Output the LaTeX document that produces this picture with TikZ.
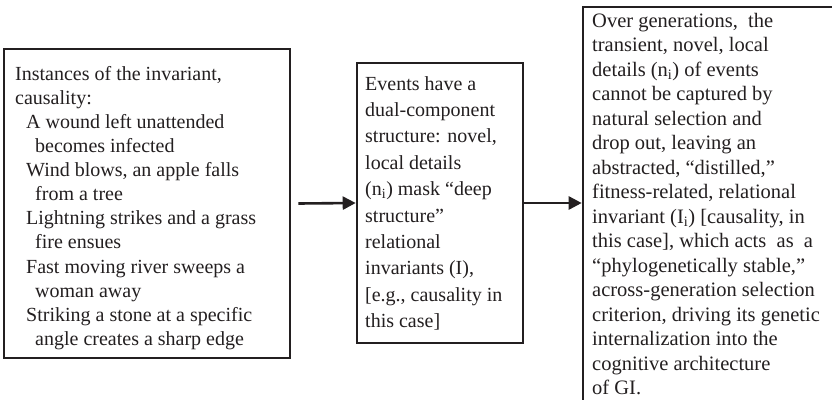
\documentclass[tikz,border=0pt]{standalone}
\usepackage{fontspec}
\setmainfont{Liberation Serif}
\usetikzlibrary{arrows.meta}
\definecolor{ink}{HTML}{231F20}
\newcommand{\sbi}{\textsubscript{i}}
\newcommand{\ia}{\hspace*{11pt}}
\newcommand{\ib}{\hspace*{20pt}}
\begin{document}
\begin{tikzpicture}[x=1pt,y=-1pt,
  box/.style={draw=ink, line width=2.6pt, inner sep=0pt},
  txt/.style={anchor=north west, inner sep=0pt, align=left, text=ink},
  conn/.style={draw=ink, line width=2.6pt, -{Triangle[length=13pt,width=13pt]}}]
\useasboundingbox (0,0) rectangle (832,399);
\clip (0,0) rectangle (832,399);
\fill[white] (0,0) rectangle (832,399);
% boxes
\node[box, minimum width=286pt, minimum height=309pt] (a) at (147,203.5) {};
\node[box, minimum width=166pt, minimum height=280pt] (b) at (440,203) {};
\node[box, minimum width=267pt, minimum height=413pt] (c) at (716.5,213.5) {};
% texts
\node[txt, font=\fontsize{20}{24.1}\selectfont] (ta) at (15,66) {Instances of the invariant,\\
causality:\\
\ia A wound left unattended\\
\ib becomes infected\\
\ia Wind blows, an apple falls\\
\ib from a tree\\
\ia Lightning strikes and a grass\\
\ib fire ensues\\
\ia Fast moving river sweeps a\\
\ib woman away\\
\ia Striking a stone at a specific\\
\ib angle creates a sharp edge};
\node[txt, font=\fontsize{20}{26.4}\selectfont] (tb) at (365,76) {Events have a\\
dual-component\\
structure: novel,\\
local details\\
(n\sbi) mask “deep\\
structure”\\
relational\\
invariants (I),\\
{[e.g.,} causality in\\
this case]};
\node[txt, font=\fontsize{20.5}{24.5}\selectfont] (tc) at (592,13) {Over generations,\ \ the\\
transient, novel, local\\
details (n\sbi) of events\\
cannot be captured by\\
natural selection and\\
drop out, leaving an\\
abstracted, “distilled,”\\
fitness-related, relational\\
invariant (I\sbi) [causality, in\\
this case], which acts\ \ as\ \ a\\
“phylogenetically stable,”\\
across-generation selection\\
criterion, driving its genetic\\
internalization into the\\
cognitive architecture\\
of GI.};
% connectors
\draw[conn] ([xshift=7pt]a.east) -- (b.west);
\draw[conn] (b.east) -- (b.east -| c.west);
\end{tikzpicture}
\end{document}
